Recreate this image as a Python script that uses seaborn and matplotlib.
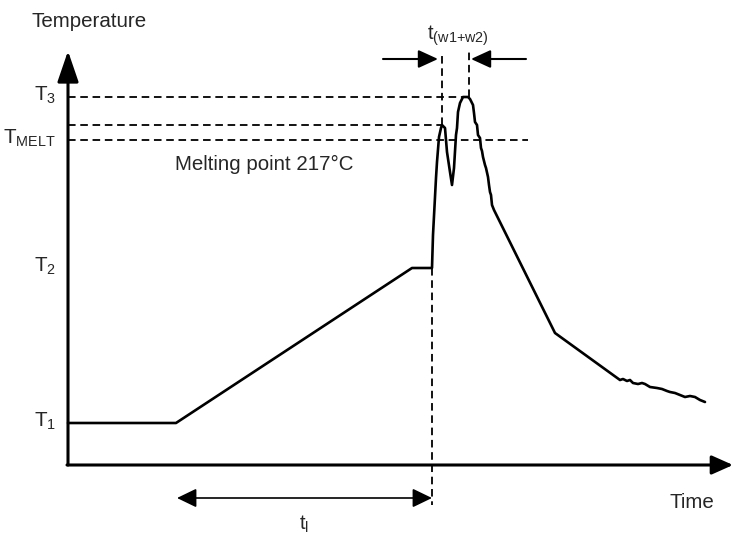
import numpy as np
import pandas as pd
import seaborn as sns
import matplotlib.pyplot as plt

# reflow profile (time / temperature in drawing units)
time = [0, 108, 344, 364, 365, 367, 368, 369, 371, 373, 374, 377, 379, 382,
        384, 386, 388, 389, 390, 392, 395, 400, 402, 405, 406, 407, 409, 410,
        412, 413, 414, 415, 417, 418, 420, 421, 422, 423, 424, 426, 487, 552,
        555, 559, 562, 565, 570, 574, 577, 582, 589, 594, 599, 602, 607, 612,
        617, 622, 627, 632, 637]
temp = [42, 42, 197, 197, 230, 268, 287, 303, 328, 337, 340, 337, 313, 293,
        280, 297, 330, 337, 353, 362, 368, 368, 366, 360, 352, 343, 340, 330,
        327, 317, 314, 308, 300, 297, 288, 280, 273, 270, 260, 255, 132, 85,
        86, 84, 85, 82, 81, 82, 81, 78, 77, 76, 74, 73, 72, 70,
        68, 69, 68, 65, 63]

level_names = [r'T$_1$', r'T$_2$', r'T$_{\mathrm{MELT}}$', r'T$_3$']
level_temps = [42, 197, 325, 368]
peak1_temp = 340
t_peak1, t_peak2 = 374, 401
t_liq_start, t_liq_end = 109, 364

sns.set_style('white')
plt.rcParams['font.family'] = ['Liberation Sans', 'DejaVu Sans']
plt.rcParams['mathtext.fontset'] = 'custom'
plt.rcParams['mathtext.rm'] = 'Liberation Sans'
plt.rcParams['mathtext.it'] = 'Liberation Sans'

fig = plt.figure(figsize=(7.34, 5.37), dpi=100)
ax = fig.add_axes([0, 0, 1, 1])
ax.set_xlim(-68, 666)
ax.set_ylim(-72, 465)
ax.axis('off')

df = pd.DataFrame({'time': time, 'temp': temp})
sns.lineplot(data=df, x='time', y='temp', sort=False, estimator=None,
             color='black', linewidth=1.9, ax=ax)

dash = (0, (4.2, 2.6))
lw_d = 1.3
# horizontal guide lines
ax.plot([0, t_peak2], [level_temps[3]] * 2, color='black', lw=lw_d, ls=dash)
ax.plot([0, t_peak1], [peak1_temp] * 2, color='black', lw=lw_d, ls=dash)
ax.plot([0, 460], [level_temps[2]] * 2, color='black', lw=lw_d, ls=dash)
# vertical guide lines
ax.plot([t_liq_end] * 2, [level_temps[1], -40], color='black', lw=lw_d, ls=dash)
ax.plot([t_peak1] * 2, [peak1_temp, 413], color='black', lw=lw_d, ls=dash)
ax.plot([t_peak2] * 2, [level_temps[3], 413], color='black', lw=lw_d, ls=dash)

# axes with arrows
ax.annotate('', xy=(0, 414), xytext=(0, 0),
            arrowprops=dict(arrowstyle='-|>,head_length=19,head_width=6.5',
                            mutation_scale=1, lw=2.2, color='black',
                            shrinkA=0, shrinkB=0))
ax.annotate('', xy=(665, 0), xytext=(-1, 0),
            arrowprops=dict(arrowstyle='-|>,head_length=13,head_width=5.8',
                            mutation_scale=1, lw=2.2, color='black',
                            shrinkA=0, shrinkB=0))

# t_l double arrow
ax.annotate('', xy=(t_liq_end, -33), xytext=(t_liq_start, -33),
            arrowprops=dict(arrowstyle='<|-|>,head_length=12,head_width=5.8',
                            mutation_scale=1, lw=1.2, color='black',
                            shrinkA=0, shrinkB=0))
# t_(w1+w2) arrows
ax.annotate('', xy=(t_peak1 - 4, 406), xytext=(315, 406),
            arrowprops=dict(arrowstyle='-|>,head_length=12,head_width=5.5',
                            mutation_scale=1, lw=1.5, color='black',
                            shrinkA=0, shrinkB=0))
ax.annotate('', xy=(t_peak2 + 2, 406), xytext=(458, 406),
            arrowprops=dict(arrowstyle='-|>,head_length=12,head_width=5.5',
                            mutation_scale=1, lw=1.5, color='black',
                            shrinkA=0, shrinkB=0))

fs = 14.8
for name, t in zip(level_names, level_temps):
    ax.text(-12, t - 4, name, ha='right', va='baseline', fontsize=fs)

ax.text(-37, 438, 'Temperature', ha='left', va='baseline', fontsize=fs)
ax.text(602, -43, 'Time', ha='left', va='baseline', fontsize=fs)
ax.text(107, 295, 'Melting point 217°C', ha='left', va='baseline', fontsize=fs)
ax.text(359, 425, r't$_{\mathrm{(w1{+}w2)}}$', ha='left', va='baseline', fontsize=fs)
ax.text(231, -65, r't$_{\mathrm{l}}$', ha='left', va='baseline', fontsize=fs)

plt.savefig('out.png', dpi=100)
